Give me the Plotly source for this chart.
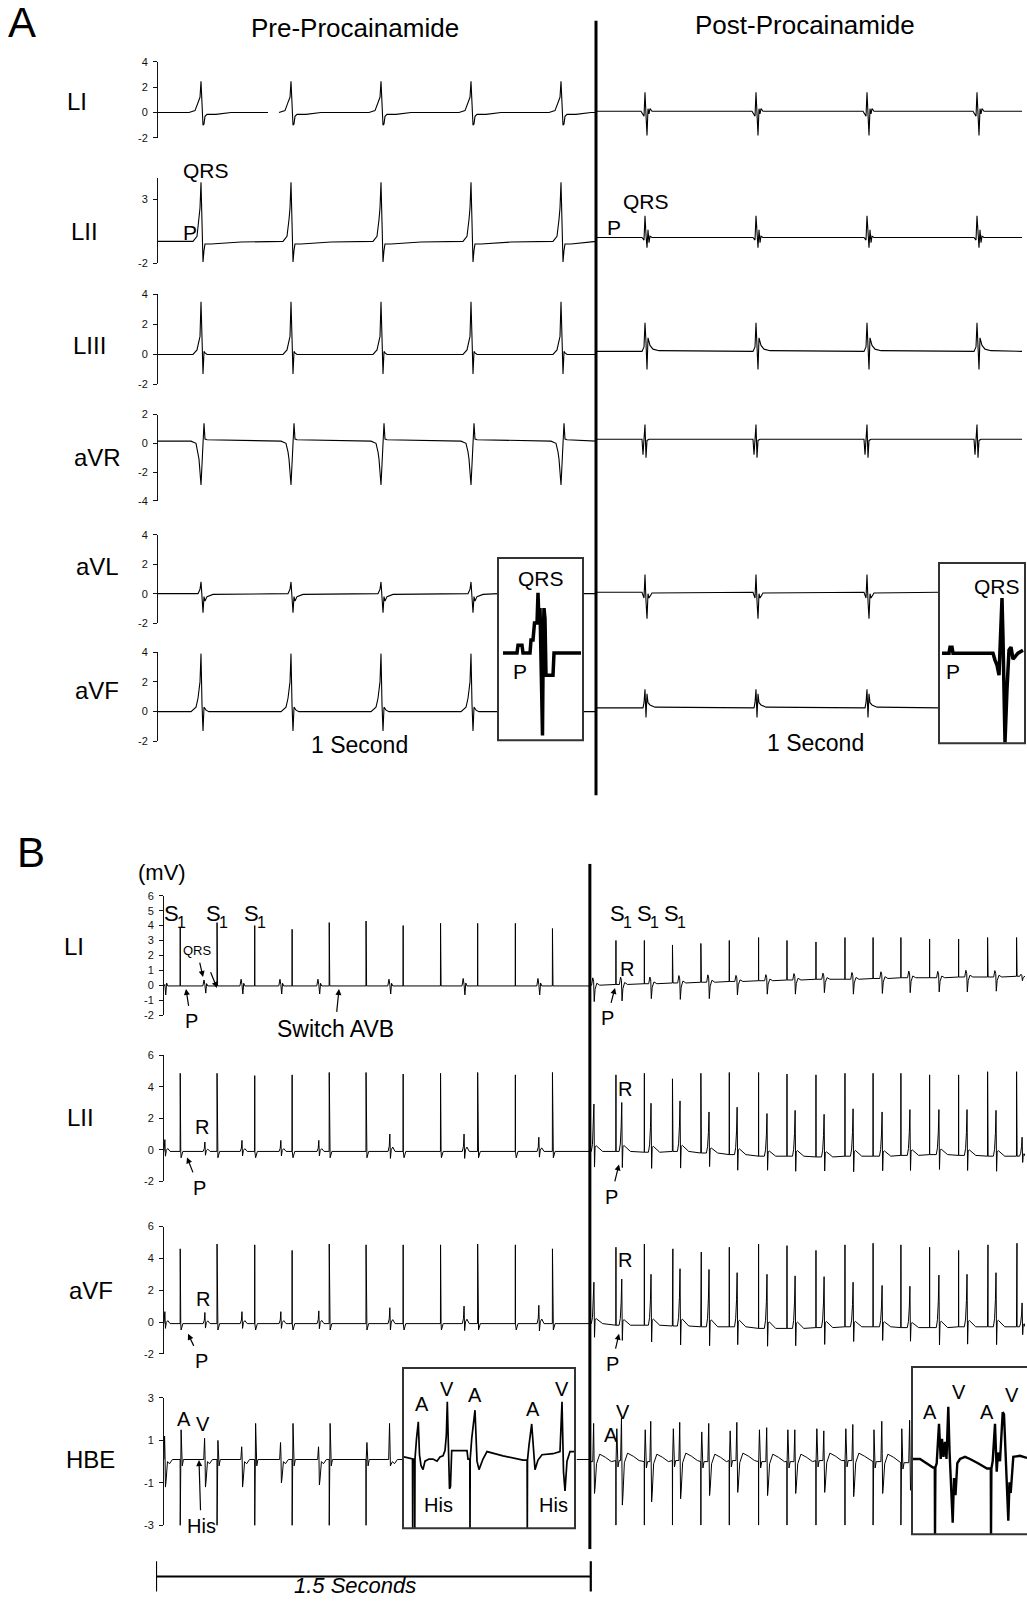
import plotly.graph_objects as go

W, H = 1027, 1603
FONT = "Liberation Sans, Arial, Helvetica, sans-serif"

# ===================== Panel A data (time ms, voltage mV) =====================
A_pre_beats = [86, 266, 446, 626, 806]
A_post_beats = [974, 1196, 1418, 1638]
A_switch_ms = 876
A_end_ms = 1728
A_LI_gap = [220, 242]
A_box_pre = [680, 850]
A_box_post_start = 1562

A_leads = ["LI", "LII", "LIII", "aVR", "aVL", "aVF"]
A_base_pre = [0.0, -0.3, 0.0, 0.15, 0.0, 0.0]
A_base_post = [0.1, 0.0, 0.2, 0.28, 0.1, 0.25]
A_yrange = [[-2, 4], [-2, 4.6], [-2, 4], [-4, 2], [-2, 4], [-2, 4]]
A_ticks = [[-2, 0, 2, 4], [-2, 3], [-2, 0, 2, 4], [-4, -2, 0, 2], [-2, 0, 2, 4], [-2, 0, 2, 4]]

# beat waveforms: offset from beat (ms) / deflection from baseline (mV)
LI_pre_dt = [-24, -12, -6, -2, 0, 2, 4, 6, 8, 12, 30, 60]
LI_pre_dv = [0, 0.15, 0.8, 1.2, 2.45, 1.0, -1.0, -0.9, -0.3, -0.15, -0.15, 0]
LI_post_dt = [-8, -2, 0, 2, 4, 6, 8, 10, 14]
LI_post_dv = [0, -0.4, 1.5, -0.3, -1.9, 0.2, -0.2, 0.2, 0]
LII_pre_dt = [-16, -8, -4, -2, 0, 2, 4, 6, 8, 20, 80]
LII_pre_dv = [0, 0.4, 1.7, 2.6, 4.6, 1.3, -1.6, -0.7, -0.2, -0.2, -0.05]
LII_post_dt = [-6, -2, 0, 2, 4, 6, 8, 10, 14]
LII_post_dv = [0, -0.2, 1.7, 0.2, -0.8, 0.6, -0.4, 0.1, 0]
LIII_pre_dt = [-16, -8, -4, -2, 0, 2, 4, 6, 8, 12]
LIII_pre_dv = [0, 0.3, 1.0, 1.2, 3.5, 0.5, -1.3, 0.2, 0.1, 0]
LIII_post_dt = [-6, -2, 0, 2, 4, 6, 10, 16, 28]
LIII_post_dv = [0, 0.3, 1.9, 0.6, -1.2, 0.9, 0.4, 0.15, 0.05]
aVR_pre_dt = [-20, -10, -6, -4, 0, 2, 6, 8, 12]
aVR_pre_dv = [0, -0.15, -0.75, -1.25, -3.05, -1.65, 1.25, 0.15, 0.1]
aVR_post_dt = [-6, -4, -2, 0, 2, 4, 8]
aVR_post_dv = [0, -1.08, 0.02, 1.02, -1.28, -0.08, 0]
aVL_pre_dt = [-6, -2, 0, 2, 4, 6, 8, 12, 24]
aVL_pre_dv = [0, 0.3, 0.8, -0.2, -1.3, -0.2, -0.5, -0.2, -0.05]
aVL_post_dt = [-6, -2, 0, 2, 4, 6, 8, 14]
aVL_post_dv = [0, -0.4, 1.2, -0.6, -1.8, -0.1, -0.4, -0.05]
aVF_pre_dt = [-20, -10, -6, -2, 0, 2, 4, 6, 10, 16]
aVF_pre_dv = [0, 0.3, 0.9, 2.0, 3.9, 0.5, -1.3, 0.3, 0.1, 0]
aVF_post_dt = [-4, -2, 0, 2, 4, 6, 10, 20]
aVF_post_dv = [0, 0.35, 1.25, -0.65, 0.95, 0.35, 0.2, 0.05]

# magnified insets (panel A): relative time / mV
Ains_pre_t = [5, 19, 20, 24, 25, 32, 33, 35, 36.5, 39, 40, 41, 42, 43, 44.5, 45.3, 46, 47, 48, 55, 56, 83]
Ains_pre_v = [-0.13, -0.13, 0.13, 0.13, -0.13, -0.13, 0.3, 0.3, 0.86, 0.86, 1.85, 0.9, 1.35, -1.0, -2.84,
              0.5, 1.35, 1.0, -0.86, -0.86, -0.13, -0.13]
Ains_post_t = [3, 10, 11, 13, 14, 54, 56, 58, 60, 61.5, 63, 64, 66, 68, 70, 72, 74, 79, 84]
Ains_post_v = [0.0, 0.0, 0.2, 0.2, 0.0, 0.0, -0.23, -0.4, -0.73, 0.3, 1.83, 0.5, -2.97, -1.2, 0.1, 0.2,
               -0.2, 0.0, 0.1]

# ===================== Panel B data (time ms, voltage mV) =====================
B_start_ms = 28
B_switch_ms = 1497
B_end_ms = 2998
B_scale_ms = [0, 1500]
B_pre_stim = [84, 211, 341, 470, 598, 725, 853, 982, 1110, 1240, 1368]
B_pre_qrs = [31, 169, 297, 431, 562, 807, 1063, 1321]
B_post_stim = [1587, 1685, 1782, 1880, 1978, 2079, 2177, 2277, 2377, 2474, 2570, 2669, 2769, 2869, 2969]
B_post_qrs = [1511, 1607, 1708, 1808, 1908, 2005, 2108, 2205, 2305, 2405, 2505, 2601, 2701, 2798, 2898, 2988]
B_hbe_box_pre = [849, 1452]
B_hbe_box_post = 2608

# lead I
LIb_pre_base = -0.05
LIb_pre_stim_h = [3.9, 4.2, 4.0, 3.75, 4.2, 4.3, 4.0, 4.15, 4.15, 4.15, 3.8]
LIb_pre_fused = [0, 2.0, 0, 0, 2.3, 1.8, 0, 0.9, 0, 0, 0.8]
LIb_pre_qrs_amp = [0.5, 0.4, 0.45, 0.45, 0.45, 0.45, 0.5, 0.5]
LIb_post_base = [0.0, 0.05, 0.1, 0.15, 0.2, 0.25, 0.3, 0.35, 0.4, 0.4, 0.45, 0.5, 0.5, 0.55, 0.55, 0.6]
LIb_post_stim_h = [3.0, 3.0, 2.7, 2.8, 3.0, 3.2, 3.0, 2.9, 3.2, 3.2, 3.2, 3.1, 3.1, 3.2, 3.2]
LIb_post_fused = [0, 0, 2.6, 2.8, 0, 0, 0, 0, 0, 0, 0, 0, 0, 2.0, 2.2]
LIb_post_qrs_amp = [1.1, 1.1, 1.0, 1.1, 1.1, 0.9, 0.9, 0.95, 0.9, 1.0, 1.0, 1.0, 0.95, 1.0, 0.95, 0.3]
LIb_pre_qrs_dt = [-7, -3, 0, 3, 6, 10]
LIb_pre_qrs_shape = [0, 1.0, 0.2, -1.2, 0.4, 0]
LIb_post_qrs_dt = [-8, -4, -1, 1, 4, 10, 20]
LIb_post_qrs_shape = [0, 0.45, 0.25, -1.0, -0.25, 0.12, 0]

# lead II
LIIb_pre_base = -0.1
LIIb_pre_stim_h = [4.85, 4.85, 4.7, 4.75, 4.9, 4.9, 4.8, 4.85, 4.9, 4.75, 4.9]
LIIb_pre_fused = [0.9, 3.7, 0, 0, 3.0, 2.6, 0, 1.3, 0, 0, 1.1]
LIIb_pre_qrs_amp = [0.75, 0.6, 0.7, 0.7, 0.7, 1.1, 1.1, 0.9]
LIIb_post_base = [-0.1, -0.1, -0.15, -0.1, -0.2, -0.3, -0.4, -0.4, -0.45, -0.4, -0.4, -0.35, -0.3, -0.35, -0.4, -0.4]
LIIb_post_stim_h = [4.75, 4.85, 4.5, 4.85, 4.9, 4.9, 4.8, 4.75, 4.85, 4.85, 4.85, 4.75, 4.75, 4.95, 4.95]
LIIb_post_fused = [0, 0, 4.3, 4.8, 0, 0, 0, 0, 0, 0, 0, 0, 0, 4.9, 4.9]
LIIb_post_qrs_amp = [3.0, 3.1, 3.1, 3.2, 2.6, 3.0, 2.7, 2.9, 2.7, 3.0, 2.8, 2.9, 2.85, 2.9, 2.9, 1.2]

# lead aVF
aVFb_pre_base = -0.1
aVFb_pre_stim_h = [4.6, 4.9, 4.85, 4.5, 4.9, 4.85, 4.85, 4.85, 4.9, 4.85, 4.6]
aVFb_pre_fused = [0.9, 3.6, 0, 0, 3.3, 2.2, 0, 1.6, 0, 0, 1.2]
aVFb_pre_qrs_amp = [0.75, 0.7, 0.75, 0.75, 0.8, 1.0, 1.1, 1.15]
aVFb_post_base = [-0.1, -0.2, -0.2, -0.25, -0.3, -0.3, -0.4, -0.4, -0.35, -0.3, -0.3, -0.35, -0.35, -0.3, -0.3, -0.3]
aVFb_post_stim_h = [4.7, 4.9, 4.6, 4.4, 4.7, 4.9, 4.8, 4.5, 4.85, 4.95, 4.85, 4.7, 4.5, 4.85, 4.95]
aVFb_post_fused = [0, 0, 4.6, 4.4, 0, 0, 0, 0, 0, 0, 0, 0, 0, 4.85, 4.95]
aVFb_post_qrs_amp = [2.6, 2.9, 3.2, 3.6, 3.6, 3.4, 3.4, 3.3, 3.2, 2.8, 2.6, 2.6, 3.3, 3.3, 3.4, 1.5]

# shared surface-lead templates (II, aVF)
Sb_pre_qrs_dt = [-6, -2, 0, 2, 5, 10, 18]
Sb_pre_qrs_shape = [0, 0.3, 1.0, -0.4, 0.1, 0.25, 0]
Sb_post_qrs_dt = [-9, -5, -2, 0, 2, 4, 8, 16, 30]
Sb_post_qrs_shape = [0, 0.15, 0.5, 1.0, -0.33, 0.1, 0.12, 0.08, 0]

# His bundle electrogram
HBE_pre_base = 0.1
HBE_stim_low = -3.1
HBE_pre_A = [1.4, 0.9, 1.7, 1.7, 1.7, 0.8]
HBE_pre_Vup = [1.1, 1.0, 0.6, 0.8, 0.6, 1.7]
HBE_pre_Vdn = [-1.3, -1.3, -1.3, -1.1, -1.2, -0.3]
HBE_post_base = [0.0, 0.05, 0.0, 0.05, 0.0, 0.05, 0.0, 0.0, 0.05, 0.05, 0.0, -0.05]
HBE_post_A = [1.5, 1.5, 1.5, 1.4, 1.4, 1.5, 1.5, 1.5, 1.5, 1.5, 1.6]
HBE_post_Vup = [1.8, 2.0, 1.9, 1.8, 1.8, 1.8, 1.6, 1.5, 1.4, 1.7, 1.9, 2.0]
HBE_post_Vdn = [-1.5, -2.1, -1.9, -1.8, -1.6, -1.5, -1.6, -1.5, -1.5, -1.7, -1.5, -1.3]

# magnified HBE insets (relative time / mV)
Bins_pre_t = [1, 6, 9.5, 9.7, 9.9, 11.6, 11.8, 12.0, 13.5, 15.3, 16.5, 18, 20, 22, 26, 30, 34, 37, 40, 42,
              43.3, 44.3, 45.3, 46.5, 47.5, 48.7, 50, 64, 65, 66.8, 67, 67.2, 68.7, 72, 74, 76, 80, 84, 100,
              120, 124.1, 124.3, 124.5, 126, 128.7, 132, 135, 139, 150, 157, 159, 160.5, 162, 164, 167, 172]
Bins_pre_v = [0.2, 0.15, 0.1, -3.3, 0.1, 0.1, -3.3, 0.1, 1.05, 1.85, 0.3, -0.2, -0.4, 0.0, 0.1, 0.1, 0.0,
              0.2, 0.25, 0.5, 1.2, 2.8, 0.9, -1.3, -1.2, 0.5, 0.5, 0.5, 0.1, 0.1, -3.3, 0.1, 1.05, 2.4, 0.0,
              -0.4, 0.1, 0.45, 0.25, 0.05, 0.05, -3.3, 0.05, 0.75, 1.75, -0.4, 0.05, 0.3, 0.35, 0.45, 2.8,
              -0.5, -1.4, 0.0, 0.45, 0.45]
Bins_post_t = [1, 8, 21, 22.8, 23, 23.4, 24.7, 27, 28.7, 30, 31.5, 33, 34.5, 36.3, 37.5, 39, 40.7, 42, 43.5,
               45.3, 48, 53, 58, 66, 75, 78.8, 79, 79.4, 80.7, 83, 84.7, 86, 88, 90.7, 92, 94, 96.3, 97.5,
               98.7, 101.3, 108, 115]
Bins_post_v = [0.1, 0.1, -0.3, -0.3, -3.6, -0.3, -0.1, 1.75, 0.1, 1.05, 0.2, 0.9, 0.1, 2.55, 0.5, -1.5, -2.9,
               -0.8, -1.6, -0.1, 0.1, 0.2, 0.1, -0.1, -0.35, -0.35, -3.6, -0.35, 0.0, 1.75, -0.5, 0.4, 0.0,
               2.3, 2.2, -0.6, -2.8, -1.0, -1.5, 0.2, 0.25, 0.15]

# ===================== helpers =====================
fig = go.Figure()
LAY = {}
_n = [0]
VY_SCALE, VY_OFF = 1.010, -7.5   # vertical placement calibration


def px_x(p):
    return p / W


def px_y(p):
    return 1 - (VY_SCALE * p + VY_OFF) / H


def add_axes(xpx, ypx, xr, yr, ticks=None):
    _n[0] += 1
    k = _n[0]
    sx = "" if k == 1 else str(k)
    LAY["xaxis" + sx] = dict(domain=[px_x(xpx[0]), px_x(xpx[1])], range=xr, visible=False,
                             anchor="y" + sx, fixedrange=True)
    ya = dict(domain=[max(0, px_y(ypx[1])), min(1, px_y(ypx[0]))], range=yr, anchor="x" + sx,
              fixedrange=True, showgrid=False, zeroline=False)
    if ticks is None:
        ya["visible"] = False
    else:
        ya.update(showline=True, linecolor="#111", linewidth=1, ticks="outside", ticklen=4, tickwidth=1,
                  tickcolor="#111", tickvals=ticks, ticktext=[str(v) for v in ticks],
                  tickfont=dict(family=FONT, size=11, color="#111"), ticklabelstandoff=3)
    LAY["yaxis" + sx] = ya
    return "x" + sx, "y" + sx


def line(xid, yid, X, Y, width=1.1):
    fig.add_trace(go.Scatter(x=X, y=Y, xaxis=xid, yaxis=yid, mode="lines",
                             line=dict(color="black", width=width), hoverinfo="skip", showlegend=False))


def seg_points(t0, t1, base, beats, dt, dv):
    xs, ys = [t0], [base]
    for b in beats:
        for d, v in zip(dt, dv):
            t = b + d
            if t0 < t < t1:
                xs.append(t)
                ys.append(base + v)
    xs.append(t1)
    ys.append(base)
    return xs, ys


def join(segs):
    X, Y = [], []
    for xs, ys in segs:
        if X and X[-1] != xs[0]:
            X.append(None)
            Y.append(None)
        X += xs
        Y += ys
    return X, Y


def assemble(t0, t1, b0, b1, pts):
    sel = sorted(p for p in pts if t0 < p[0] < t1)
    return [t0] + [p[0] for p in sel] + [t1], [b0] + [p[1] for p in sel] + [b1]


def nearest(tl, vals, t):
    i = min(range(len(tl)), key=lambda k: abs(tl[k] - t))
    return vals[i]


def stim_pts(t, b, h, f, under):
    p = [(t - 0.4, b), (t, h), (t + 0.4, b)]
    if f:
        p += [(t + 0.9, b), (t + 1.3, f), (t + 1.8, b)]
    if under:
        p += [(t + 3, b + under), (t + 9, b)]
    return p


def wave_pts(t, b, amp, dt, shape):
    return [(t + d, b + amp * s) for d, s in zip(dt, shape)]


def hbe_stim_pts(t, b, low, a):
    return [(t - 0.4, b), (t, low), (t + 0.4, b), (t + 3, b + a), (t + 7, b - 0.3), (t + 11, b)]


def hbe_v_pts(t, b, up, dn, post):
    p = [(t - 4, b), (t - 1, b + up), (t + 0.5, b + 0.2 * up), (t + 2, b + dn), (t + 4, b + 0.8 * dn),
         (t + 9, b - 0.1)]
    if post:
        p += [(t + 20, b + 0.35), (t + 40, b + 0.2), (t + 60, b)]
    else:
        p += [(t + 16, b - 0.2), (t + 26, b)]
    return p


# ===================== Panel A =====================
A_templates = {
    "LI": (LI_pre_dt, LI_pre_dv, LI_post_dt, LI_post_dv),
    "LII": (LII_pre_dt, LII_pre_dv, LII_post_dt, LII_post_dv),
    "LIII": (LIII_pre_dt, LIII_pre_dv, LIII_post_dt, LIII_post_dv),
    "aVR": (aVR_pre_dt, aVR_pre_dv, aVR_post_dt, aVR_post_dv),
    "aVL": (aVL_pre_dt, aVL_pre_dv, aVL_post_dt, aVL_post_dv),
    "aVF": (aVF_pre_dt, aVF_pre_dv, aVF_post_dt, aVF_post_dv),
}
A_segments = {
    "LI": [(0, A_LI_gap[0], "pre"), (A_LI_gap[1], A_switch_ms, "pre"), (A_switch_ms, A_end_ms, "post")],
    "LII": [(0, A_switch_ms, "pre"), (A_switch_ms, A_end_ms, "post")],
    "LIII": [(0, A_switch_ms, "pre"), (A_switch_ms, A_end_ms, "post")],
    "aVR": [(0, A_switch_ms, "pre"), (A_switch_ms, A_end_ms, "post")],
    "aVL": [(0, A_box_pre[0], "pre"), (A_box_pre[1], A_switch_ms, "pre"), (A_switch_ms, A_box_post_start, "post")],
    "aVF": [(0, A_box_pre[0], "pre"), (A_box_pre[1], A_switch_ms, "pre"), (A_switch_ms, A_box_post_start, "post")],
}
A_ydom = [(63, 139), (179.5, 264), (295, 385), (415, 501), (535, 623), (652, 741)]
A_xdom = (158, 1025)
A_xrange = [0, 1734]

for i, lead in enumerate(A_leads):
    xid, yid = add_axes(A_xdom, A_ydom[i], A_xrange, A_yrange[i], A_ticks[i])
    pdt, pdv, qdt, qdv = A_templates[lead]
    segs = []
    for t0, t1, ph in A_segments[lead]:
        if ph == "pre":
            segs.append(seg_points(t0, t1, A_base_pre[i], A_pre_beats, pdt, pdv))
        else:
            segs.append(seg_points(t0, t1, A_base_post[i], A_post_beats, qdt, qdv))
    X, Y = join(segs)
    line(xid, yid, X, Y, 1.1)

xid, yid = add_axes((498, 583), (558, 740), [0, 85], [-3, 3])
line(xid, yid, Ains_pre_t, Ains_pre_v, 3.5)
xid, yid = add_axes((939, 1025), (563, 743), [0, 86], [-3, 3])
line(xid, yid, Ains_post_t, Ains_post_v, 3.5)

xid, yid = add_axes(A_xdom, (22, 795), A_xrange, [0, 1])
line(xid, yid, [A_switch_ms, A_switch_ms], [0, 1], 3)

# ===================== Panel B =====================
B_xdom = (164, 1025)
B_xrange = [B_start_ms, B_end_ms]


def surface(pre_base, pre_h, pre_f, pre_amp, pre_dt, pre_shape, under,
            post_base, post_h, post_f, post_amp, post_dt, post_shape):
    pts = []
    for t, h, f in zip(B_pre_stim, pre_h, pre_f):
        pts += stim_pts(t, pre_base, h, f, under)
    for t, a in zip(B_pre_qrs, pre_amp):
        pts += wave_pts(t, pre_base, a, pre_dt, pre_shape)
    s1 = assemble(B_start_ms, B_switch_ms, pre_base, pre_base, pts)
    pts = []
    for t, h, f in zip(B_post_stim, post_h, post_f):
        b = nearest(B_post_qrs, post_base, t + 20)
        pts += stim_pts(t, b, h, f, 0)
    for t, a, b in zip(B_post_qrs, post_amp, post_base):
        pts += wave_pts(t, b, a, post_dt, post_shape)
    s2 = assemble(B_switch_ms, B_end_ms, post_base[0], post_base[-1], pts)
    return join([s1, s2])


B_rows = [
    ("LI", (895, 1014), [-2, 6], [-2, -1, 0, 1, 2, 3, 4, 5, 6],
     surface(LIb_pre_base, LIb_pre_stim_h, LIb_pre_fused, LIb_pre_qrs_amp, LIb_pre_qrs_dt, LIb_pre_qrs_shape, 0,
             LIb_post_base, LIb_post_stim_h, LIb_post_fused, LIb_post_qrs_amp, LIb_post_qrs_dt,
             LIb_post_qrs_shape)),
    ("LII", (1054, 1180), [-2, 6], [-2, 0, 2, 4, 6],
     surface(LIIb_pre_base, LIIb_pre_stim_h, LIIb_pre_fused, LIIb_pre_qrs_amp, Sb_pre_qrs_dt, Sb_pre_qrs_shape,
             -0.4, LIIb_post_base, LIIb_post_stim_h, LIIb_post_fused, LIIb_post_qrs_amp, Sb_post_qrs_dt,
             Sb_post_qrs_shape)),
    ("aVF", (1225, 1352), [-2, 6], [-2, 0, 2, 4, 6],
     surface(aVFb_pre_base, aVFb_pre_stim_h, aVFb_pre_fused, aVFb_pre_qrs_amp, Sb_pre_qrs_dt, Sb_pre_qrs_shape,
             -0.4, aVFb_post_base, aVFb_post_stim_h, aVFb_post_fused, aVFb_post_qrs_amp, Sb_post_qrs_dt,
             Sb_post_qrs_shape)),
]
for name, ydom, yr, tk, (X, Y) in B_rows:
    xid, yid = add_axes(B_xdom, ydom, B_xrange, yr, tk)
    line(xid, yid, X, Y, 1.0)

# HBE
pts = []
for t, a in zip(B_pre_stim[:len(HBE_pre_A)], HBE_pre_A):
    pts += hbe_stim_pts(t, HBE_pre_base, HBE_stim_low, a)
for t, u, d in zip(B_pre_qrs[:len(HBE_pre_Vup)], HBE_pre_Vup, HBE_pre_Vdn):
    pts += hbe_v_pts(t, HBE_pre_base, u, d, False)
h1 = assemble(B_start_ms, B_hbe_box_pre[0], HBE_pre_base, HBE_pre_base, pts)
h2 = assemble(B_hbe_box_pre[1], B_switch_ms, HBE_pre_base, HBE_pre_base, [])
pts = []
for t, a in zip(B_post_stim[:len(HBE_post_A)], HBE_post_A):
    b = nearest(B_post_qrs[:len(HBE_post_base)], HBE_post_base, t + 20)
    pts += hbe_stim_pts(t, b, HBE_stim_low + 0.1, a)
for t, u, d, b in zip(B_post_qrs, HBE_post_Vup, HBE_post_Vdn, HBE_post_base):
    pts += hbe_v_pts(t, b, u, d, True)
h3 = assemble(B_switch_ms, B_hbe_box_post, HBE_post_base[0], HBE_post_base[-1], pts)
X, Y = join([h1, h2, h3])
xid, yid = add_axes(B_xdom, (1396, 1523), B_xrange, [-3, 3], [-3, -1, 1, 3])
line(xid, yid, X, Y, 1.0)

xid, yid = add_axes((403, 575), (1366, 1526), [0, 172], [-3.16, 4.39])
line(xid, yid, Bins_pre_t, Bins_pre_v, 1.7)
xid, yid = add_axes((912, 1027), (1365, 1532), [0, 115], [-3.44, 4.43])
line(xid, yid, Bins_post_t, Bins_post_v, 2.4)

xid, yid = add_axes(B_xdom, (863, 1547), B_xrange, [0, 1])
line(xid, yid, [B_switch_ms, B_switch_ms], [0, 1], 3)

# scale bar (1.5 s)
xid, yid = add_axes((156, 1025), (1559, 1589), [0, B_end_ms], [0, 1])
fig.add_trace(go.Scatter(x=B_scale_ms, y=[0.5, 0.5], xaxis=xid, yaxis=yid, mode="lines+markers",
                         line=dict(color="black", width=2),
                         marker=dict(symbol="line-ns", size=24, line=dict(color="black", width=2.2)),
                         hoverinfo="skip", showlegend=False))

# ===================== text =====================
ann = []


def txt(s, x, y, size=21, italic=False, head=None):
    if italic:
        s = "<i>" + s + "</i>"
    a = dict(text=s, xref="paper", yref="paper", xanchor="center", yanchor="middle",
             font=dict(family=FONT, size=size, color="black"))
    if head is None:
        a.update(x=px_x(x), y=px_y(y), showarrow=False)
    else:
        a.update(x=px_x(head[0]), y=px_y(head[1]), showarrow=True, ax=x - head[0],
                 ay=VY_SCALE * (y - head[1]), axref="pixel", ayref="pixel", arrowhead=2, arrowsize=1,
                 arrowwidth=1.2, arrowcolor="black", standoff=0, startstandoff=3)
    ann.append(a)


def arrow(head, tail):
    ann.append(dict(text="", x=px_x(head[0]), y=px_y(head[1]), xref="paper", yref="paper", showarrow=True,
                    ax=tail[0] - head[0], ay=VY_SCALE * (tail[1] - head[1]), axref="pixel", ayref="pixel",
                    arrowhead=2, arrowsize=1, arrowwidth=1.2, arrowcolor="black", standoff=0,
                    startstandoff=0))


txt("A", 22, 24, 42)
txt("Pre-Procainamide", 355, 29, 26)
txt("Post-Procainamide", 805, 26, 26)
for lab, (x, y) in zip(A_leads, [(77, 103), (84, 232), (89, 346), (97, 458), (97, 567), (97, 690)]):
    txt(lab, x, y, 24)
txt("QRS", 206, 172)
txt("P", 190, 233)
txt("QRS", 646, 202)
txt("P", 614, 228)
txt("QRS", 541, 579)
txt("P", 520, 671)
txt("QRS", 997, 587)
txt("P", 953, 671)
txt("1 Second", 359, 745, 23)
txt("1 Second", 815, 743, 23)

txt("B", 31, 852, 42)
txt("(mV)", 162, 872, 22)
for lab, (x, y) in zip(["LI", "LII", "aVF", "HBE"], [(74, 946), (80, 1116), (91, 1289), (90, 1457)]):
    txt(lab, x, y, 24)
for x in [171, 213, 251, 617, 644, 671]:
    txt("S", x, 913, 22)
    txt("1", x + 10, 922, 16)
txt("QRS", 197, 950, 13, head=(203, 976))
arrow((217, 987), (210, 970))
txt("P", 191, 1020, 20, head=(186, 988))
txt("Switch AVB", 335, 1028, 23, head=(339, 988))
txt("R", 627, 968, 20)
txt("P", 607, 1017, 20, head=(615, 987))
txt("R", 202, 1126, 20)
txt("P", 199, 1186, 20, head=(187, 1156))
txt("R", 625, 1088, 20)
txt("P", 611, 1195, 20, head=(619, 1163))
txt("R", 203, 1297, 20)
txt("P", 201, 1359, 20, head=(188, 1332))
txt("R", 625, 1258, 20)
txt("P", 612, 1362, 20, head=(619, 1332))
txt("A", 184, 1417, 20)
txt("V", 203, 1422, 20)
txt("His", 201, 1523, 20, head=(199, 1458))
for s, x, y in [("A", 422, 1402), ("V", 447, 1387), ("A", 475, 1393), ("A", 533, 1407), ("V", 562, 1387),
                ("His", 438, 1503), ("His", 553, 1503), ("A", 611, 1433), ("V", 623, 1410),
                ("A", 930, 1410), ("V", 959, 1390), ("A", 987, 1410), ("V", 1012, 1393)]:
    txt(s, x, y, 20)
ann.append(dict(text="<i>1.5 Seconds</i>", x=px_x(355), y=0, xref="paper", yref="paper", showarrow=False,
                xanchor="center", yanchor="bottom", borderpad=0, yshift=-2,
                font=dict(family=FONT, size=22, color="black")))

shapes = []
for (x0, y0, x1, y1) in [(498, 558, 583, 740), (939, 563, 1025, 743), (403, 1366, 575, 1526),
                         (912, 1365, 1040, 1532)]:
    shapes.append(dict(type="rect", xref="paper", yref="paper", x0=px_x(x0), x1=px_x(x1), y0=px_y(y1),
                       y1=px_y(y0), line=dict(color="#333", width=2), fillcolor="rgba(0,0,0,0)",
                       layer="above"))

fig.update_layout(width=W, height=H, autosize=False, margin=dict(l=0, r=0, t=0, b=0, pad=0),
                  paper_bgcolor="white", plot_bgcolor="rgba(0,0,0,0)", showlegend=False, hovermode=False,
                  annotations=ann, shapes=shapes, font=dict(family=FONT, color="black"), **LAY)

fig.write_html("out.html", config={"displayModeBar": False},
               post_script="document.body.style.margin='0px';")
